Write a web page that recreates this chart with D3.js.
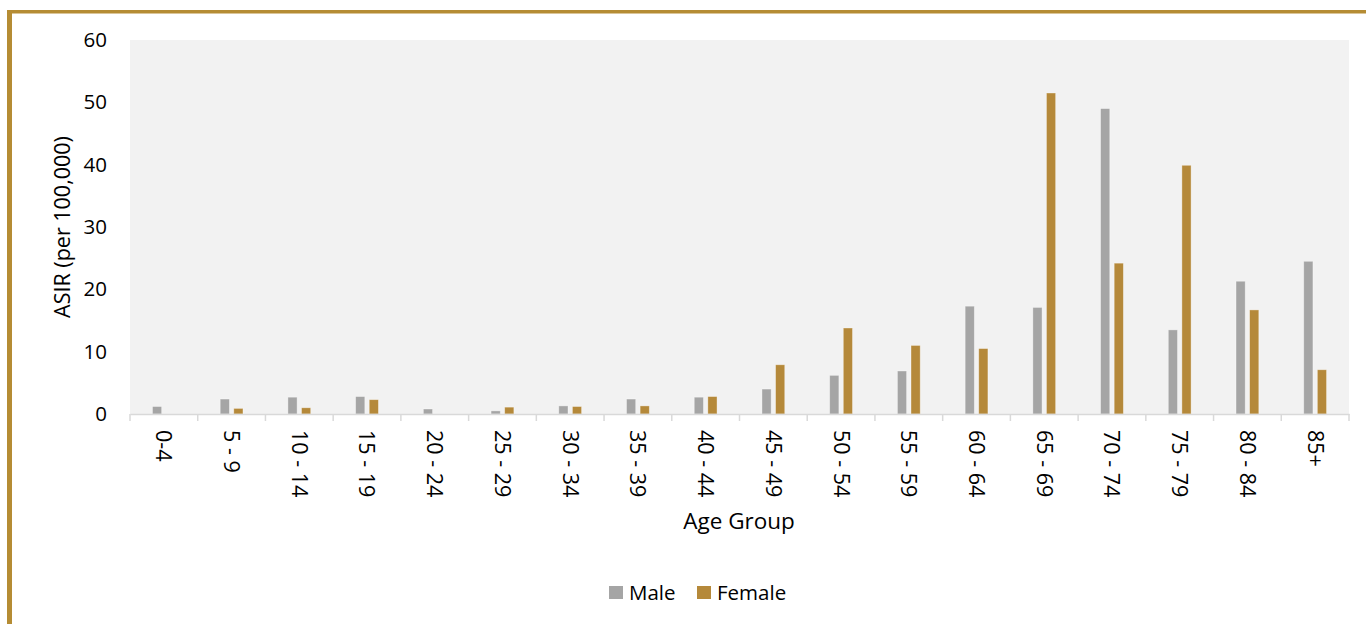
<!DOCTYPE html>
<html>
<head>
<meta charset="utf-8">
<script src="https://cdn.jsdelivr.net/npm/d3@7/dist/d3.min.js"></script>
<style>
  html, body { margin: 0; padding: 0; background: #fff; }
  svg { display: block; font-family: "Open Sans", "Noto Sans", sans-serif; }
</style>
</head>
<body>
<svg id="chart" width="1366" height="624"></svg>
<script>
// Age-specific incidence rates (per 100,000) by age group and sex
const ageGroups = ["0-4", "5 - 9", "10 - 14", "15 - 19", "20 - 24", "25 - 29", "30 - 34", "35 - 39",
  "40 - 44", "45 - 49", "50 - 54", "55 - 59", "60 - 64", "65 - 69", "70 - 74", "75 - 79", "80 - 84", "85+"];
const maleValues   = [1.2, 2.4, 2.7, 2.8, 0.8, 0.5, 1.3, 2.4, 2.7, 4.0, 6.2, 6.9, 17.3, 17.1, 49.0, 13.5, 21.3, 24.5];
const femaleValues = [0, 0.9, 1.0, 2.3, 0, 1.1, 1.2, 1.3, 2.8, 7.9, 13.8, 11.0, 10.5, 51.5, 24.2, 39.9, 16.7, 7.1];
const seriesNames = ["Male", "Female"];
const yTicks = [0, 10, 20, 30, 40, 50, 60];

const colors = { Male: "#a5a5a5", Female: "#b5893a" };

const svg = d3.select("#chart");
const plot = { left: 130, right: 1349, top: 40, bottom: 414 };

// frame around the figure
svg.append("line").attr("x1", 9.5).attr("x2", 9.5).attr("y1", 10).attr("y2", 624)
  .attr("stroke", "#b58c34").attr("stroke-width", 5);
svg.append("line").attr("x1", 7).attr("x2", 1366).attr("y1", 11.7).attr("y2", 11.7)
  .attr("stroke", "#b58c34").attr("stroke-width", 3.4);

const x = d3.scaleBand().domain(ageGroups).range([plot.left, plot.right]).padding(0);
const y = d3.scaleLinear().domain([0, 60]).range([plot.bottom, plot.top]);

// plot area background
svg.append("rect")
  .attr("x", plot.left).attr("y", plot.top)
  .attr("width", plot.right - plot.left).attr("height", plot.bottom - plot.top)
  .attr("fill", "#f2f2f2");

// bars
const barW = 9.2, barGap = 4.4;
const inner = d3.scaleOrdinal().domain(seriesNames)
  .range([-(barW + barGap / 2), barGap / 2]);
const rows = ageGroups.map((g, i) => ({ group: g, Male: maleValues[i], Female: femaleValues[i] }));

svg.append("g").selectAll("g")
  .data(rows).join("g")
  .selectAll("rect")
  .data(d => seriesNames.map(s => ({ group: d.group, s, v: d[s] })))
  .join("rect")
  .attr("x", d => x(d.group) + x.bandwidth() / 2 + inner(d.s))
  .attr("y", d => y(d.v))
  .attr("width", barW)
  .attr("height", d => y(0) - y(d.v))
  .attr("fill", d => colors[d.s])
  .attr("stroke", d => d.v > 0 ? "rgba(255,255,255,0.45)" : "none")
  .attr("stroke-width", 0.8);

// x axis
const xAxis = svg.append("g")
  .attr("transform", `translate(0,${plot.bottom})`)
  .call(d3.axisBottom(x).tickSize(0).tickSizeOuter(0));
xAxis.attr("font-size", null).attr("font-family", null);
xAxis.select(".domain").attr("stroke", "#d9d9d9").attr("stroke-width", 1.5);
xAxis.selectAll(".tick text")
  .attr("transform", "rotate(90)")
  .attr("x", 16).attr("y", 0).attr("dy", "0.35em")
  .attr("text-anchor", "start")
  .attr("fill", "#000")
  .style("font-size", "21.5px");
// category separators
svg.append("g").selectAll("line")
  .data(ageGroups.map(g => x(g)).concat([plot.right]))
  .join("line")
  .attr("x1", d => d).attr("x2", d => d)
  .attr("y1", plot.bottom).attr("y2", plot.bottom + 7)
  .attr("stroke", "#d9d9d9").attr("stroke-width", 1.5);

// y axis
const yAxis = svg.append("g")
  .attr("transform", `translate(${plot.left},0)`)
  .call(d3.axisLeft(y).tickValues(yTicks).tickSize(0).tickPadding(23));
yAxis.attr("font-size", null).attr("font-family", null);
yAxis.select(".domain").remove();
yAxis.selectAll(".tick text").attr("fill", "#000").style("font-size", "20.5px");

// axis titles
svg.append("text")
  .attr("transform", `translate(70,${(plot.top + plot.bottom) / 2}) rotate(-90)`)
  .attr("text-anchor", "middle")
  .style("font-size", "21.5px")
  .text("ASIR (per 100,000)");
svg.append("text")
  .attr("x", 739).attr("y", 529)
  .attr("text-anchor", "middle")
  .style("font-size", "22.5px")
  .text("Age Group");

// legend
const legend = svg.append("g").attr("transform", "translate(609,593)");
const legendX = { Male: 0, Female: 88 };
seriesNames.forEach(s => {
  const g = legend.append("g").attr("transform", `translate(${legendX[s]},0)`);
  g.append("rect").attr("x", 0).attr("y", -7).attr("width", 14).attr("height", 13).attr("fill", colors[s]);
  g.append("text").attr("x", 20).attr("y", 0).attr("dy", "0.35em")
    .style("font-size", "20.5px").text(s);
});
</script>
</body>
</html>
